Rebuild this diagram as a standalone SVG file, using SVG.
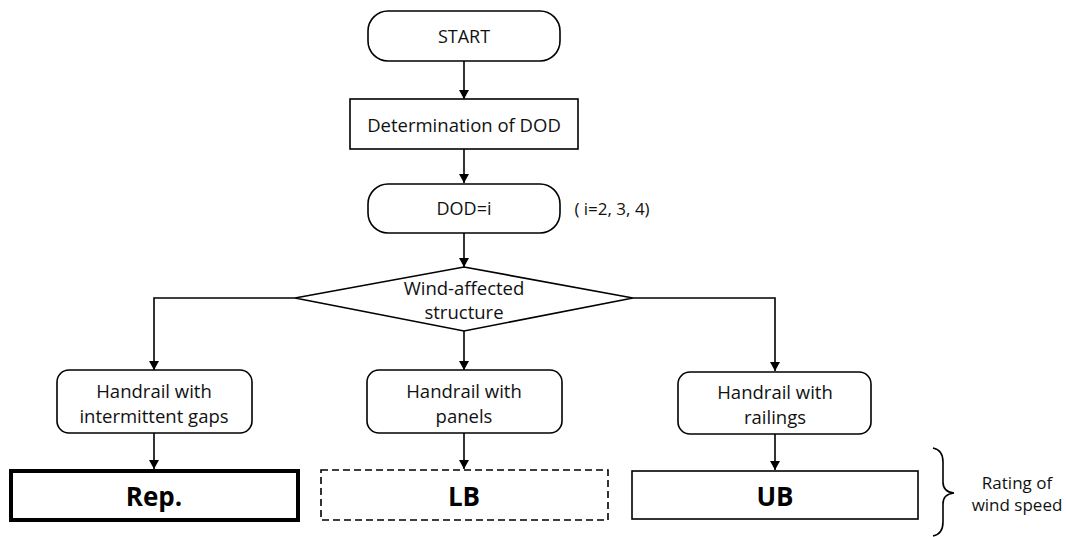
<svg xmlns="http://www.w3.org/2000/svg" width="1066" height="537" viewBox="0 0 1066 537">
<defs>
<marker id="arr" viewBox="0 0 10 11" refX="10" refY="5.5" markerWidth="11" markerHeight="10" markerUnits="userSpaceOnUse" orient="auto">
<path d="M0,0 L10,5.5 L0,11 Z" fill="#000"/>
</marker>
<style>
.b{fill:#fff;stroke:#000;stroke-width:1.6}
.t{font-family:"Open Sans","Liberation Sans",sans-serif;font-size:18.5px;fill:#111;text-anchor:middle;dominant-baseline:central}
.s{font-size:18px}
.n{font-size:17px}
.big{font-family:"Open Sans","Liberation Sans",sans-serif;font-size:26px;font-weight:bold;fill:#000;text-anchor:middle;dominant-baseline:central}
.c{fill:none;stroke:#000;stroke-width:1.6}
</style>
</defs>
<rect width="1066" height="537" fill="#fff"/>
<g id="connectors">
<path class="c" d="M464,61 V99" marker-end="url(#arr)"/>
<path class="c" d="M464,149 V183" marker-end="url(#arr)"/>
<path class="c" d="M464,233 V267" marker-end="url(#arr)"/>
<path class="c" d="M295,298 H154 V370" marker-end="url(#arr)"/>
<path class="c" d="M633,298 H775 V371" marker-end="url(#arr)"/>
<path class="c" d="M464,331 V370" marker-end="url(#arr)"/>
<path class="c" d="M154,433 V469" marker-end="url(#arr)"/>
<path class="c" d="M464,433 V469" marker-end="url(#arr)"/>
<path class="c" d="M775,434 V470" marker-end="url(#arr)"/>
</g>
<g id="start"><rect class="b" x="368" y="11" width="192" height="50" rx="20"/><text class="t s" x="464" y="36">START</text></g>
<g id="determination"><rect class="b" x="350" y="99" width="228" height="50"/><text class="t" x="464" y="124">Determination of DOD</text></g>
<g id="dod"><rect class="b" x="368" y="184" width="192" height="49" rx="20"/><text class="t s" x="464" y="208">DOD=i</text></g>
<g id="dod-note"><text class="t n" x="612" y="208">( i=2, 3, 4)</text></g>
<g id="decision"><polygon class="b" points="464,267 633,298 464,331 295,298"/><text class="t" x="464" y="287">Wind-affected</text><text class="t" x="464" y="311">structure</text></g>
<g id="handrail-gaps"><rect class="b" x="57" y="370" width="195" height="63" rx="12"/><text class="t" x="154" y="390">Handrail with</text><text class="t" x="154" y="415">intermittent gaps</text></g>
<g id="handrail-panels"><rect class="b" x="367" y="370" width="195" height="63" rx="12"/><text class="t" x="464" y="390">Handrail with</text><text class="t" x="464" y="415">panels</text></g>
<g id="handrail-railings"><rect class="b" x="678" y="372" width="193" height="62" rx="12"/><text class="t" x="775" y="391">Handrail with</text><text class="t" x="775" y="416">railings</text></g>
<g id="rep"><rect x="11" y="471" width="287" height="49" fill="#fff" stroke="#000" stroke-width="4"/><text class="big" x="154" y="496">Rep.</text></g>
<g id="lb"><rect x="321" y="470" width="287" height="50" fill="#fff" stroke="#000" stroke-width="1.6" stroke-dasharray="7,4"/><text class="big" x="464" y="496">LB</text></g>
<g id="ub"><rect class="b" x="632" y="471" width="286" height="48"/><text class="big" x="775" y="496">UB</text></g>
<g id="brace"><path class="c" d="M933,448 Q943,450 943,462 V482 Q943,492 954,493 Q943,494 943,504 V522 Q943,534 933,536"/><text class="t n" x="1017" y="482">Rating of</text><text class="t n" x="1017" y="504">wind speed</text></g>
</svg>
